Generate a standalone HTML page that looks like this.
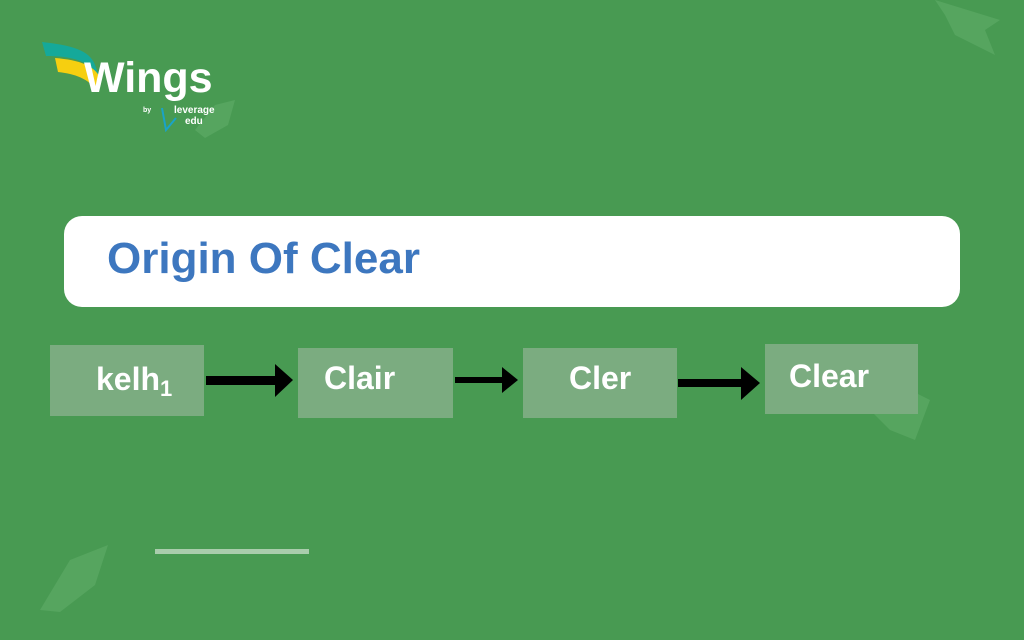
<!DOCTYPE html>
<html><head><meta charset="utf-8"><style>
body{margin:0;width:1024px;height:640px;background:#489a52;position:relative;overflow:hidden;font-family:"Liberation Sans",sans-serif;}
.b{position:absolute;background:#7bac80;color:#fff;font-weight:bold;font-size:32px;box-sizing:border-box;}
.card{position:absolute;left:64px;top:216px;width:896px;height:91px;background:#fff;border-radius:18px;}
.card span{position:absolute;left:43px;top:18px;font-size:44px;font-weight:bold;color:#3d77bf;}
svg{position:absolute;left:0;top:0}
</style></head><body>
<svg width="1024" height="640">
<g fill="#5aa863" opacity="0.8">
<path d="M935 0 L1000 20 L985 30 L995 55 L975 45 L955 35 L945 15Z"/>
<path d="M40 610 L70 560 L108 545 L95 585 L60 612Z"/>
<path d="M870 410 L900 385 L930 400 L915 440 L890 430Z"/>
<path d="M195 130 L215 105 L235 100 L228 125 L205 138Z"/>
</g>
<path d="M42 42 C70 45 90 50 95 65 L100 78 C90 60 70 56 46 56Z" fill="#15a99a"/>
<path d="M55 58 C80 60 95 66 100 78 L98 92 C88 78 75 74 58 72Z" fill="#f6cf10"/>
<text x="84" y="92" font-family="Liberation Sans" font-weight="bold" font-size="43" fill="#fff">Wings</text>
<text x="143" y="112" font-family="Liberation Sans" font-weight="bold" font-size="7" fill="#fff">by</text>
<path d="M162 108 L166 130 L176 118" stroke="#1aa3c7" stroke-width="2" fill="none"/>
<text x="174" y="113" font-family="Liberation Sans" font-weight="bold" font-size="10" fill="#fff">leverage</text>
<text x="185" y="124" font-family="Liberation Sans" font-weight="bold" font-size="10" fill="#fff">edu</text>
<rect x="155" y="549" width="154" height="5" fill="#a9cdac"/>
<rect x="206" y="376" width="72" height="9" fill="#000"/><path d="M275 364 L293 380 L275 397Z" fill="#000"/>
<rect x="455" y="377" width="50" height="6" fill="#000"/><path d="M502 367 L518 380 L502 393Z" fill="#000"/>
<rect x="678" y="379" width="66" height="8" fill="#000"/><path d="M741 367 L760 383 L741 400Z" fill="#000"/>
</svg>
<div class="card"><span>Origin Of Clear</span></div>
<div class="b" style="left:50px;top:345px;width:154px;height:71px;padding:16px 0 0 46px">kelh<span style="font-size:22px;position:relative;top:6px">1</span></div>
<div class="b" style="left:298px;top:348px;width:155px;height:70px;padding:12px 0 0 26px">Clair</div>
<div class="b" style="left:523px;top:348px;width:154px;height:70px;padding:12px 0 0 46px">Cler</div>
<div class="b" style="left:765px;top:344px;width:153px;height:70px;padding:14px 0 0 24px">Clear</div>
</body></html>
